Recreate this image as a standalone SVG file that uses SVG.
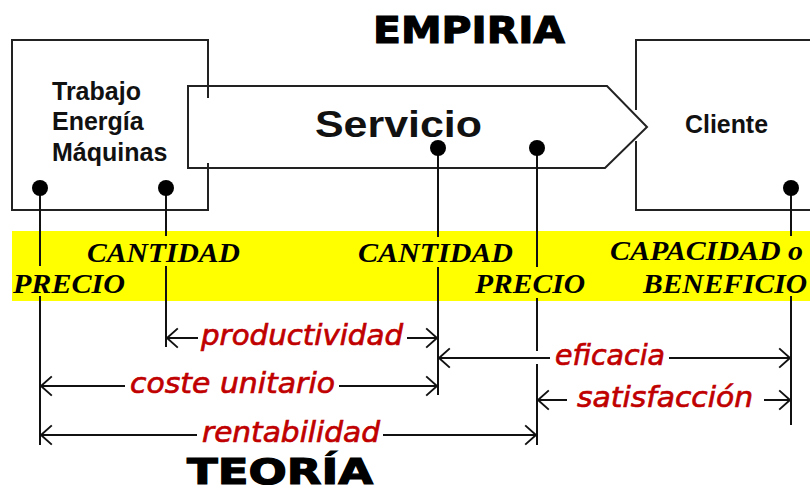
<svg xmlns="http://www.w3.org/2000/svg" width="810" height="493" viewBox="0 0 810 493">
<style>
  .ln{stroke:#111;stroke-width:2;fill:none}
  .box{stroke:#222;stroke-width:2;fill:none}
  .dot{fill:#000}
  .hd{font-family:"DejaVu Sans",sans-serif;font-weight:bold;fill:#000}
  .nd{font-family:"Liberation Sans",Arial,sans-serif;font-weight:bold;fill:#111}
  .var{font-family:"Liberation Serif","Times New Roman",serif;font-weight:bold;font-style:italic;font-size:27px;fill:#000}
  .rel{font-family:"DejaVu Sans",Verdana,sans-serif;font-style:italic;font-size:29px;fill:#c00000;stroke:#c00000;stroke-width:0.7}
  .mask{fill:#ffff00}
  .arr{stroke:#111;stroke-width:2;fill:none}
</style>
<defs>
  <marker id="ah" markerUnits="userSpaceOnUse" markerWidth="24" markerHeight="24" viewBox="-12 -10 14 20" refX="0" refY="0" orient="auto">
    <path d="M-9,-8 L0,0 L-9,8" fill="none" stroke="#111" stroke-width="1.6"/>
  </marker>
</defs>
<rect width="810" height="493" fill="#fff"/>

<text class="hd" x="373" y="43" font-size="38" textLength="192" lengthAdjust="spacingAndGlyphs" stroke="#000" stroke-width="1.2">EMPIRIA</text>
<text class="hd" x="187" y="484" font-size="36" textLength="186" lengthAdjust="spacingAndGlyphs" stroke="#000" stroke-width="1.2">TEORÍA</text>

<g id="cliente">
  <path class="box" d="M810,40 H636 V110 M636 141 V210 H810"/>
  <text class="nd" x="685" y="133" font-size="25" textLength="83" lengthAdjust="spacingAndGlyphs">Cliente</text>
</g>

<g id="recursos">
  <path class="box" d="M208,98 V40 H12 V210 H208 V163"/>
</g>

<g id="servicio">
  <polygon points="188,86 607,86 647,127 605,168 188,168" fill="#fff" stroke="#222" stroke-width="2"/>
  <text class="nd" x="315" y="137" font-size="37" textLength="167" lengthAdjust="spacingAndGlyphs">Servicio</text>
</g>
<path class="box" d="M208,86 V98 M208,163 V168"/>
<g id="recursos-text">
  <text class="nd" x="52" y="100" font-size="25">Trabajo</text>
  <text class="nd" x="52" y="130" font-size="25">Energía</text>
  <text class="nd" x="52" y="161" font-size="25">Máquinas</text>
</g>

<rect x="12" y="231" width="798" height="70" fill="#ffff00"/>

<g id="connectors">
  <line class="ln" x1="40" y1="188" x2="40" y2="445"/>
  <line class="ln" x1="166" y1="188" x2="166" y2="347"/>
  <line class="ln" x1="438" y1="148" x2="438" y2="395"/>
  <path class="ln" d="M537,148 V351 M537,364 V445"/>
  <line class="ln" x1="791" y1="188" x2="791" y2="425"/>

  <line class="arr" x1="198" y1="338" x2="167" y2="338" marker-end="url(#ah)"/>
  <line class="arr" x1="407" y1="338" x2="437" y2="338" marker-end="url(#ah)"/>
  <line class="arr" x1="125" y1="386" x2="41" y2="386" marker-end="url(#ah)"/>
  <line class="arr" x1="339" y1="386" x2="437" y2="386" marker-end="url(#ah)"/>
  <line class="arr" x1="197" y1="435" x2="41" y2="435" marker-end="url(#ah)"/>
  <line class="arr" x1="383" y1="435" x2="536" y2="435" marker-end="url(#ah)"/>
  <line class="arr" x1="550" y1="358" x2="439" y2="358" marker-end="url(#ah)"/>
  <line class="arr" x1="669" y1="358" x2="790" y2="358" marker-end="url(#ah)"/>
  <line class="arr" x1="567" y1="400" x2="538" y2="400" marker-end="url(#ah)"/>
  <line class="arr" x1="764" y1="400" x2="790" y2="400" marker-end="url(#ah)"/>
</g>

<g id="dots">
  <circle class="dot" cx="40" cy="188" r="8"/>
  <circle class="dot" cx="166" cy="188" r="8"/>
  <circle class="dot" cx="438" cy="148" r="8"/>
  <circle class="dot" cx="537" cy="148" r="8"/>
  <circle class="dot" cx="791" cy="188" r="8"/>
</g>

<g id="variables">
  <rect class="mask" x="84" y="236" width="160" height="30"/>
  <rect class="mask" x="12" y="266" width="116" height="30"/>
  <rect class="mask" x="355" y="237" width="160" height="30"/>
  <rect class="mask" x="472" y="267" width="116" height="31"/>
  <rect class="mask" x="607" y="236" width="203" height="60"/>
  <text class="var" x="87" y="262" textLength="153" lengthAdjust="spacingAndGlyphs">CANTIDAD</text>
  <text class="var" x="13" y="293" textLength="112" lengthAdjust="spacingAndGlyphs">PRECIO</text>
  <text class="var" x="358" y="262" textLength="155" lengthAdjust="spacingAndGlyphs">CANTIDAD</text>
  <text class="var" x="475" y="293" textLength="110" lengthAdjust="spacingAndGlyphs">PRECIO</text>
  <text class="var" x="610" y="260" textLength="193" lengthAdjust="spacingAndGlyphs">CAPACIDAD o</text>
  <text class="var" x="643" y="293" textLength="164" lengthAdjust="spacingAndGlyphs">BENEFICIO</text>
</g>

<g id="relaciones">
  <text class="rel" x="201" y="345" textLength="202" lengthAdjust="spacingAndGlyphs">productividad</text>
  <text class="rel" x="130" y="393" textLength="205" lengthAdjust="spacingAndGlyphs">coste unitario</text>
  <text class="rel" x="202" y="442" textLength="178" lengthAdjust="spacingAndGlyphs">rentabilidad</text>
  <text class="rel" x="555" y="365" textLength="110" lengthAdjust="spacingAndGlyphs">eficacia</text>
  <text class="rel" x="577" y="407" textLength="176" lengthAdjust="spacingAndGlyphs">satisfacción</text>
</g>
</svg>
